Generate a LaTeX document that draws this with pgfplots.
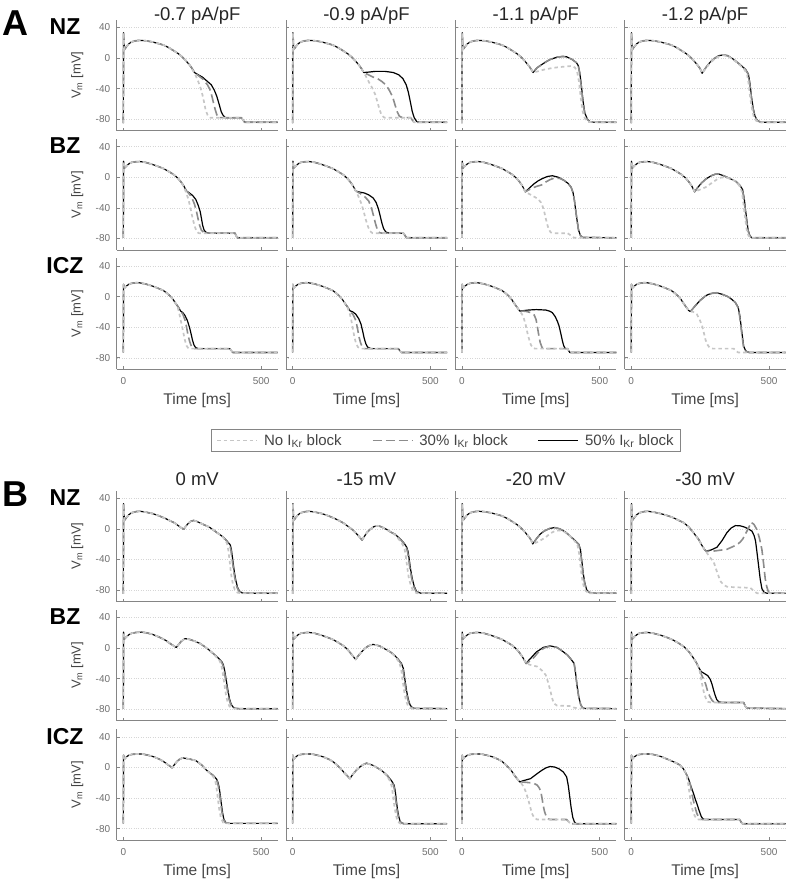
\documentclass[border=0pt]{standalone}
\usepackage{fontspec}
\setmainfont{Liberation Sans}
\usepackage{pgfplots}
\pgfplotsset{compat=1.18}
\definecolor{axgray}{HTML}{858585}
\definecolor{tickgray}{HTML}{6E6E6E}
\definecolor{gridgray}{HTML}{D6D6D6}
\definecolor{labgray}{HTML}{444444}
\definecolor{c30}{HTML}{8C8C8C}
\definecolor{cnb}{HTML}{C6C6C6}
\tikzset{
 b50/.style={draw=black, line width=1.2pt, line join=round},
 b30/.style={draw=c30, line width=1.6pt, dash pattern=on 9pt off 4pt, line join=round},
 nob/.style={draw=cnb, line width=1.7pt, dash pattern=on 3.5pt off 3pt, line join=round},
}
\pgfplotsset{
 panel/.style={
   scale only axis, width=161pt, height=111pt, anchor=north west,
   xmin=-24, xmax=560, ymin=-95, ymax=50,
   axis lines=left, axis line style={-, draw=axgray, line width=0.9pt},
   xtick={0,500}, ytick={-80,-40,0,40},
   xticklabels={}, yticklabels={},
   tick align=inside, major tick length=3pt,
   tick style={draw=axgray, line width=0.7pt},
   ymajorgrids, major grid style={dotted, draw=gridgray, line width=0.6pt},
   tick label style={font=\fontsize{10}{12}\selectfont, text=tickgray},
 },
 leftcol/.style={yticklabels={-80,-40,0,40}, ylabel={V\textsubscript{m} [mV]},
   ylabel style={at={(axis description cs:-0.245,0.5)}, anchor=center, font=\fontsize{13}{15}\selectfont, text=labgray},
   yticklabel style={xshift=-3pt}},
 bottomrow/.style={xticklabels={0,500}, xlabel={Time [ms]},
   xlabel style={at={(axis description cs:0.5,-0.315)}, anchor=base, font=\fontsize{15.5}{17}\selectfont, text=labgray},
   xticklabel style={anchor=base, yshift=-15pt}},
}
\begin{document}
\begin{tikzpicture}
\path[use as bounding box] (0pt,0pt) rectangle (787pt,881pt);
% big letters and row labels
\node[font=\fontsize{36}{38}\selectfont\bfseries] at (15pt,858pt) {A};
\node[font=\fontsize{36}{38}\selectfont\bfseries] at (15pt,387pt) {B};
\foreach \yy/\lab in {854.5/NZ,735.2/BZ,615.9/ICZ,383.5/NZ,264.2/BZ,144.9/ICZ}{
  \node[font=\fontsize{23}{25}\selectfont\bfseries] at (65pt,\yy pt) {\lab};
}
% titles
\foreach \xx/\lab in {197.2/{-0.7 pA/pF},366.5/{-0.9 pA/pF},535.8/{-1.1 pA/pF},705.1/{-1.2 pA/pF}}{
  \node[anchor=base, font=\fontsize{18.5}{20}\selectfont, text=black!85] at (\xx pt,860.5pt) {\lab};
}
\foreach \xx/\lab in {197.2/{0 mV},366.5/{-15 mV},535.8/{-20 mV},705.1/{-30 mV}}{
  \node[anchor=base, font=\fontsize{18.5}{20}\selectfont, text=black!85] at (\xx pt,395pt) {\lab};
}

%================ A: NZ ================
\begin{axis}[panel, leftcol, at={(116.7pt,861.3pt)}]
\addplot[b50] coordinates {(0,-85) (1,33) (4,11) (12,15) (20,18.5) (30,21) (45,22.5) (60,23) (80,22.5) (105,21) (125,19) (145,17) (165,13.5) (185,9) (200,5.5) (215,1) (228,-4) (240,-9) (250,-14) (258,-19) (272,-22) (287,-25) (303,-30) (319,-35) (330,-42) (339,-50) (348,-61) (355,-70) (362,-75) (370,-78) (428,-78) (440,-84) (560,-84)};
\addplot[b30] coordinates {(0,-85) (1,33) (4,11) (12,15) (20,18.5) (30,21) (45,22.5) (60,23) (80,22.5) (105,21) (125,19) (145,17) (165,13.5) (185,9) (200,5.5) (215,1) (228,-4) (240,-9) (250,-14) (258,-19) (272,-23) (290,-28) (305,-35) (314,-41) (320,-48) (326,-57) (333,-67) (339,-74) (347,-78) (428,-78) (440,-84) (560,-84)};
\addplot[nob] coordinates {(0,-85) (1,33) (4,11) (12,15) (20,18.5) (30,21) (45,22.5) (60,23) (80,22.5) (105,21) (125,19) (145,17) (165,13.5) (185,9) (200,5.5) (215,1) (228,-4) (240,-9) (250,-15) (260,-21) (271,-30) (280,-39) (287,-48) (293,-58) (298,-67) (306,-75) (315,-78) (428,-78) (440,-84) (560,-84)};
\end{axis}
\begin{axis}[panel, at={(286.0pt,861.3pt)}]
\addplot[b50] coordinates {(0,-85) (1,33) (4,11) (12,15) (20,18.5) (30,21) (45,22.5) (60,23) (80,22.5) (105,21) (125,19) (145,17) (165,13.5) (185,9) (200,5.5) (215,1) (228,-4) (240,-9) (250,-14) (258,-19) (275,-18.5) (300,-17.5) (335,-17.5) (365,-19) (385,-22) (400,-27) (412,-35) (420,-45) (428,-59) (434,-70) (441,-78) (450,-83) (465,-84) (560,-84)};
\addplot[b30] coordinates {(0,-85) (1,33) (4,11) (12,15) (20,18.5) (30,21) (45,22.5) (60,23) (80,22.5) (105,21) (125,19) (145,17) (165,13.5) (185,9) (200,5.5) (215,1) (228,-4) (240,-9) (250,-14) (258,-19) (275,-22) (292,-25) (308,-27) (325,-31) (340,-36) (352,-43) (363,-51) (372,-62) (379,-70) (387,-76) (398,-78) (428,-78) (440,-84) (560,-84)};
\addplot[nob] coordinates {(0,-85) (1,33) (4,11) (12,15) (20,18.5) (30,21) (45,22.5) (60,23) (80,22.5) (105,21) (125,19) (145,17) (165,13.5) (185,9) (200,5.5) (215,1) (228,-4) (240,-9) (250,-14) (260,-20) (276,-31) (290,-40) (300,-48) (308,-58) (315,-67) (323,-75) (333,-78) (428,-78) (440,-84) (560,-84)};
\end{axis}
\begin{axis}[panel, at={(455.3pt,861.3pt)}]
\addplot[b50] coordinates {(0,-85) (1,33) (4,11) (12,15) (20,18.5) (30,21) (45,22.5) (60,23) (80,22.5) (105,21) (125,19) (145,17) (165,13.5) (185,9) (200,5.5) (215,1) (228,-4) (240,-9) (250,-14) (258,-19) (272,-13) (288,-9) (305,-5) (320,-2) (345,1) (365,2) (380,1.5) (400,-2) (415,-6) (422,-10) (427,-18) (433,-35) (440,-58) (446,-72) (455,-80) (465,-83.5) (480,-84) (560,-84)};
\addplot[b30] coordinates {(0,-85) (1,33) (4,11) (12,15) (20,18.5) (30,21) (45,22.5) (60,23) (80,22.5) (105,21) (125,19) (145,17) (165,13.5) (185,9) (200,5.5) (215,1) (228,-4) (240,-9) (250,-14) (258,-19) (272,-13) (288,-9) (305,-5) (320,-2) (345,1) (365,2) (380,1.5) (400,-2) (415,-6) (422,-10) (426,-18) (432,-35) (439,-58) (445,-72) (454,-80) (464,-83.5) (480,-84) (560,-84)};
\addplot[nob] coordinates {(0,-85) (1,33) (4,11) (12,15) (20,18.5) (30,21) (45,22.5) (60,23) (80,22.5) (105,21) (125,19) (145,17) (165,13.5) (185,9) (200,5.5) (215,1) (228,-4) (240,-9) (250,-14) (258,-19) (275,-17.5) (300,-15) (330,-13) (352,-12) (380,-11) (399,-10.5) (410,-12.5) (418,-18) (425,-32) (431,-52) (438,-70) (446,-79) (458,-83.5) (475,-84) (560,-84)};
\end{axis}
\begin{axis}[panel, at={(624.6pt,861.3pt)}]
\addplot[b50] coordinates {(0,-85) (1,33) (4,11) (12,15) (20,18.5) (30,21) (45,22.5) (60,23) (80,22.5) (105,21) (125,19) (145,17) (165,13.5) (185,9) (200,5.5) (215,1) (228,-4) (240,-9) (250,-14) (257,-20) (270,-13) (285,-6) (300,-1) (318,3) (333,4) (350,3) (370,-1.5) (396,-9) (415,-15) (425,-21) (431,-34) (436,-50) (442,-65) (449,-76) (458,-82) (472,-84) (560,-84)};
\addplot[b30] coordinates {(0,-85) (1,33) (4,11) (12,15) (20,18.5) (30,21) (45,22.5) (60,23) (80,22.5) (105,21) (125,19) (145,17) (165,13.5) (185,9) (200,5.5) (215,1) (228,-4) (240,-9) (250,-14) (257,-20) (270,-13) (285,-6) (300,-1) (318,3) (333,4) (350,3) (370,-1.5) (396,-9) (414,-15) (424,-21) (430,-34) (435,-50) (441,-65) (448,-76) (457,-82) (471,-84) (560,-84)};
\addplot[nob] coordinates {(0,-85) (1,33) (4,11) (12,15) (20,18.5) (30,21) (45,22.5) (60,23) (80,22.5) (105,21) (125,19) (145,17) (165,13.5) (185,9) (200,5.5) (215,1) (228,-4) (240,-9) (250,-14) (257,-20) (270,-14) (285,-7) (300,-2) (318,2) (333,3.5) (350,2.5) (370,-2) (396,-10) (410,-15) (420,-21) (426,-34) (431,-50) (437,-65) (444,-76) (453,-82) (468,-84) (560,-84)};
\end{axis}

%================ A: BZ ================
\begin{axis}[panel, leftcol, at={(116.7pt,742.0pt)}]
\addplot[b50] coordinates {(0,-79) (1,21) (4,12) (12,15) (20,17.5) (30,19.5) (45,20.3) (60,20.5) (80,19.5) (106,16.7) (125,14.3) (145,11.5) (165,7.5) (185,3) (197,-1) (208,-5.5) (219,-11) (229,-18) (240,-20.5) (252,-24) (263,-29) (272,-37) (279,-45) (284,-55) (288,-63) (293,-69) (300,-72) (310,-73) (405,-73) (413,-79) (560,-79)};
\addplot[b30] coordinates {(0,-79) (1,21) (4,12) (12,15) (20,17.5) (30,19.5) (45,20.3) (60,20.5) (80,19.5) (106,16.7) (125,14.3) (145,11.5) (165,7.5) (185,3) (197,-1) (208,-5.5) (219,-11) (229,-18) (240,-22) (250,-28) (258,-35) (265,-44) (271,-54) (277,-63) (283,-69) (291,-72) (300,-73) (405,-73) (413,-79) (560,-79)};
\addplot[nob] coordinates {(0,-79) (1,21) (4,12) (12,15) (20,17.5) (30,19.5) (45,20.3) (60,20.5) (80,19.5) (106,16.7) (125,14.3) (145,11.5) (165,7.5) (185,3) (197,-1) (208,-5.5) (219,-12) (229,-21) (237,-30) (244,-41) (251,-53) (258,-63) (265,-70) (273,-73) (405,-73) (413,-79) (560,-79)};
\end{axis}
\begin{axis}[panel, at={(286.0pt,742.0pt)}]
\addplot[b50] coordinates {(0,-79) (1,21) (4,12) (12,15) (20,17.5) (30,19.5) (45,20.3) (60,20.5) (80,19.5) (106,16.7) (125,14.3) (145,11.5) (165,7.5) (185,3) (197,-1) (208,-5.5) (219,-11) (229,-18) (245,-19.5) (260,-20.5) (276,-23) (292,-27) (303,-33) (311,-41) (318,-51) (324,-60) (330,-67) (338,-71.5) (350,-73) (402,-73) (413,-79) (560,-79)};
\addplot[b30] coordinates {(0,-79) (1,21) (4,12) (12,15) (20,17.5) (30,19.5) (45,20.3) (60,20.5) (80,19.5) (106,16.7) (125,14.3) (145,11.5) (165,7.5) (185,3) (197,-1) (208,-5.5) (219,-11) (229,-18) (245,-21) (262,-25.5) (276,-31) (286,-40) (294,-51) (301,-61) (308,-69) (316,-72.5) (325,-73) (402,-73) (413,-79) (560,-79)};
\addplot[nob] coordinates {(0,-79) (1,21) (4,12) (12,15) (20,17.5) (30,19.5) (45,20.3) (60,20.5) (80,19.5) (106,16.7) (125,14.3) (145,11.5) (165,7.5) (185,3) (197,-1) (208,-5.5) (219,-11) (229,-18) (240,-26) (250,-35) (258,-45) (266,-56) (274,-65) (281,-70.5) (290,-73) (402,-73) (413,-79) (560,-79)};
\end{axis}
\begin{axis}[panel, at={(455.3pt,742.0pt)}]
\addplot[b50] coordinates {(0,-79) (1,21) (4,12) (12,15) (20,17.5) (30,19.5) (45,20.3) (60,20.5) (80,19.5) (106,16.7) (125,14.3) (145,11.5) (165,7.5) (185,3) (197,-1) (208,-5.5) (219,-11) (230,-19) (245,-14) (260,-9) (275,-5) (290,-2) (310,1) (328,2) (350,0) (368,-3.5) (385,-8) (396,-13) (403,-20) (408,-30) (413,-44) (418,-57) (423,-69) (430,-76) (438,-78.6) (560,-79)};
\addplot[b30] coordinates {(0,-79) (1,21) (4,12) (12,15) (20,17.5) (30,19.5) (45,20.3) (60,20.5) (80,19.5) (106,16.7) (125,14.3) (145,11.5) (165,7.5) (185,3) (197,-1) (208,-5.5) (219,-11) (230,-19) (250,-15) (270,-12) (289,-10) (305,-6) (320,-3) (336,-1) (355,-1.5) (370,-4) (385,-8) (396,-13) (403,-20) (408,-30) (413,-44) (418,-57) (423,-69) (430,-76) (438,-78.6) (560,-79)};
\addplot[nob] coordinates {(0,-79) (1,21) (4,12) (12,15) (20,17.5) (30,19.5) (45,20.3) (60,20.5) (80,19.5) (106,16.7) (125,14.3) (145,11.5) (165,7.5) (185,3) (197,-1) (208,-5.5) (219,-11) (230,-19) (245,-22) (260,-25) (275,-28) (287,-33) (296,-41) (303,-52) (309,-61) (315,-68) (322,-72) (332,-73) (383,-73) (395,-76) (407,-79) (560,-79)};
\end{axis}
\begin{axis}[panel, at={(624.6pt,742.0pt)}]
\addplot[b50] coordinates {(0,-79) (1,21) (4,12) (12,15) (20,17.5) (30,19.5) (45,20.3) (60,20.5) (80,19.5) (106,16.7) (125,14.3) (145,11.5) (165,7.5) (185,3) (197,-1) (208,-5.5) (219,-11) (230,-19) (242,-13) (255,-7.5) (270,-2.5) (290,2) (305,4) (317,4.3) (335,2) (360,-2) (380,-5.5) (395,-11) (404,-16) (410,-28) (415,-44) (420,-58) (424,-69) (430,-76) (437,-79) (560,-79)};
\addplot[b30] coordinates {(0,-79) (1,21) (4,12) (12,15) (20,17.5) (30,19.5) (45,20.3) (60,20.5) (80,19.5) (106,16.7) (125,14.3) (145,11.5) (165,7.5) (185,3) (197,-1) (208,-5.5) (219,-11) (230,-19) (242,-13) (255,-7.5) (270,-2.5) (290,2) (305,4) (317,4.3) (335,2) (360,-2) (380,-5.5) (395,-11) (403,-16) (409,-28) (414,-44) (419,-58) (423,-69) (429,-76) (436,-79) (560,-79)};
\addplot[nob] coordinates {(0,-79) (1,21) (4,12) (12,15) (20,17.5) (30,19.5) (45,20.3) (60,20.5) (80,19.5) (106,16.7) (125,14.3) (145,11.5) (165,7.5) (185,3) (197,-1) (208,-5.5) (219,-11) (230,-19) (250,-16) (270,-13) (290,-8) (310,-3) (325,-0.5) (340,0) (360,-2) (380,-5.5) (392,-11) (400,-17) (405,-28) (410,-44) (415,-58) (419,-69) (425,-76) (432,-79) (560,-79)};
\end{axis}

%================ A: ICZ ================
\begin{axis}[panel, leftcol, bottomrow, at={(116.7pt,622.7pt)}]
\addplot[b50] coordinates {(0,-73) (1,16) (4,11) (12,14) (20,16) (30,17.3) (45,18) (58,18) (80,16.5) (106,13.7) (125,11) (145,8) (158,4.5) (169,1) (181,-4) (192,-10) (200,-14) (208,-19) (216,-21) (224,-25) (232,-31) (240,-40) (246,-49) (251,-57) (256,-63) (262,-66.5) (271,-68) (386,-68) (397,-73) (560,-73)};
\addplot[b30] coordinates {(0,-73) (1,16) (4,11) (12,14) (20,16) (30,17.3) (45,18) (58,18) (80,16.5) (106,13.7) (125,11) (145,8) (158,4.5) (169,1) (181,-4) (192,-10) (200,-14) (208,-19) (216,-23) (224,-31) (230,-41) (235,-51) (241,-59) (248,-66) (256,-68) (386,-68) (397,-73) (560,-73)};
\addplot[nob] coordinates {(0,-73) (1,16) (4,11) (12,14) (20,16) (30,17.3) (45,18) (58,18) (80,16.5) (106,13.7) (125,11) (145,8) (158,4.5) (169,1) (181,-4) (192,-10) (198,-15) (203,-22) (210,-34) (216,-44) (222,-55) (229,-64) (237,-68) (386,-68) (397,-73) (560,-73)};
\end{axis}
\begin{axis}[panel, bottomrow, at={(286.0pt,622.7pt)}]
\addplot[b50] coordinates {(0,-73) (1,16) (4,11) (12,14) (20,16) (30,17.3) (45,18) (58,18) (80,16.5) (106,13.7) (125,11) (145,8) (158,4.5) (169,1) (181,-4) (192,-10) (200,-14) (208,-18.5) (218,-20) (229,-23) (240,-29) (248,-36) (254,-45) (260,-55) (266,-62) (272,-66) (284,-68) (383,-68) (394,-73) (560,-73)};
\addplot[b30] coordinates {(0,-73) (1,16) (4,11) (12,14) (20,16) (30,17.3) (45,18) (58,18) (80,16.5) (106,13.7) (125,11) (145,8) (158,4.5) (169,1) (181,-4) (192,-10) (200,-14) (208,-18.5) (220,-24) (229,-31) (235,-41) (241,-53) (247,-61) (253,-66) (261,-68) (383,-68) (394,-73) (560,-73)};
\addplot[nob] coordinates {(0,-73) (1,16) (4,11) (12,14) (20,16) (30,17.3) (45,18) (58,18) (80,16.5) (106,13.7) (125,11) (145,8) (158,4.5) (169,1) (181,-4) (192,-10) (200,-15) (207,-22) (213,-31) (219,-43) (224,-53) (230,-61) (237,-66) (245,-68) (383,-68) (394,-73) (560,-73)};
\end{axis}
\begin{axis}[panel, bottomrow, at={(455.3pt,622.7pt)}]
\addplot[b50] coordinates {(0,-73) (1,16) (4,11) (12,14) (20,16) (30,17.3) (45,18) (58,18) (80,16.5) (106,13.7) (125,11) (145,8) (158,4.5) (169,1) (181,-4) (192,-10) (200,-14) (210,-19) (220,-18.5) (241,-17.6) (270,-17) (304,-17.6) (318,-19) (328,-21) (338,-26) (346,-32) (352,-38) (358,-47) (364,-57) (369,-64) (375,-68) (383,-68) (391,-73) (560,-73)};
\addplot[b30] coordinates {(0,-73) (1,16) (4,11) (12,14) (20,16) (30,17.3) (45,18) (58,18) (80,16.5) (106,13.7) (125,11) (145,8) (158,4.5) (169,1) (181,-4) (192,-10) (200,-14) (210,-19) (222,-19) (235,-19.5) (250,-21) (262,-24) (269,-30) (274,-40) (279,-51) (284,-60) (290,-66) (297,-68) (383,-68) (391,-73) (560,-73)};
\addplot[nob] coordinates {(0,-73) (1,16) (4,11) (12,14) (20,16) (30,17.3) (45,18) (58,18) (80,16.5) (106,13.7) (125,11) (145,8) (158,4.5) (169,1) (181,-4) (192,-10) (200,-14) (210,-19) (218,-23) (225,-29) (232,-38) (238,-48) (244,-56) (250,-63) (257,-67) (265,-68) (383,-68) (391,-73) (560,-73)};
\end{axis}
\begin{axis}[panel, bottomrow, at={(624.6pt,622.7pt)}]
\addplot[b50] coordinates {(0,-73) (1,16) (4,11) (12,14) (20,16) (30,17.3) (45,18) (58,18) (80,16.5) (106,13.7) (125,11) (145,8) (158,4.5) (169,1) (181,-4) (192,-10) (200,-14) (208,-18) (214,-19.5) (222,-16.5) (230,-13) (240,-9) (250,-5) (260,-2) (270,1) (280,2.8) (290,4) (309,5) (330,3) (350,0) (364,-3.4) (378,-8) (388,-14) (394,-25) (399,-40) (404,-54) (408,-65) (414,-70) (420,-72) (428,-73) (560,-73)};
\addplot[b30] coordinates {(0,-73) (1,16) (4,11) (12,14) (20,16) (30,17.3) (45,18) (58,18) (80,16.5) (106,13.7) (125,11) (145,8) (158,4.5) (169,1) (181,-4) (192,-10) (200,-14) (208,-18) (214,-19.5) (222,-16.5) (230,-13) (240,-9) (250,-5) (260,-2) (270,1) (280,2.8) (290,4) (309,5) (330,3) (350,0) (364,-3.4) (378,-8) (387,-14) (393,-25) (398,-40) (403,-54) (407,-65) (413,-70) (419,-72) (427,-73) (560,-73)};
\addplot[nob] coordinates {(0,-73) (1,16) (4,11) (12,14) (20,16) (30,17.3) (45,18) (58,18) (80,16.5) (106,13.7) (125,11) (145,8) (158,4.5) (169,1) (181,-4) (192,-10) (200,-14) (208,-18) (214,-19.5) (225,-20) (238,-23) (248,-30) (257,-38) (264,-48) (270,-57) (277,-63) (285,-67) (295,-68) (372,-68) (380,-71) (388,-73) (560,-73)};
\end{axis}

%================ Legend ================
\begin{axis}[at={(446pt,440.5pt)}, anchor=center, hide axis, scale only axis, width=10pt, height=10pt,
  xmin=0, xmax=1, ymin=0, ymax=1,
  legend style={at={(0.5,0.5)}, anchor=center, draw=axgray, line width=0.7pt, legend columns=3,
    font=\fontsize{15}{17}\selectfont, text=labgray, inner xsep=5pt, inner ysep=3pt,
    /tikz/every odd column/.append style={column sep=4pt},
    /tikz/every even column/.append style={column sep=28pt}},
  legend cell align=left,
  legend image code/.code={\draw[#1] (0pt,0pt) -- (40pt,0pt);}]
\addlegendimage{nob}
\addlegendentry{No I\textsubscript{Kr} block}
\addlegendimage{b30}
\addlegendentry{30\% I\textsubscript{Kr} block}
\addlegendimage{b50}
\addlegendentry{50\% I\textsubscript{Kr} block}
\end{axis}

%================ B: NZ ================
\begin{axis}[panel, leftcol, at={(116.7pt,390.4pt)}]
\addplot[b50] coordinates {(0,-85) (1,33) (4,11) (12,15) (20,18.5) (30,21) (45,22.5) (60,23) (80,22) (106,20) (130,17) (153,13.5) (170,10.5) (185,8) (200,4) (212,1) (219,-0.5) (226,3) (235,7) (245,10) (255,11) (265,10) (280,7.5) (295,5) (311,2.5) (325,-1) (340,-5) (358,-9.5) (370,-13.5) (380,-17.5) (388,-21) (392,-27) (395,-35) (399,-46) (403,-57) (408,-67) (414,-76) (421,-81) (430,-83.5) (440,-84) (560,-84)};
\addplot[b30] coordinates {(0,-85) (1,33) (4,11) (12,15) (20,18.5) (30,21) (45,22.5) (60,23) (80,22) (106,20) (130,17) (153,13.5) (170,10.5) (185,8) (200,4) (212,1) (219,-0.5) (226,3) (235,7) (245,10) (255,11) (265,10) (280,7.5) (295,5) (311,2.5) (325,-1) (340,-5) (358,-9.5) (370,-13.5) (378,-17.5) (386,-21) (390,-27) (393,-35) (397,-46) (401,-57) (406,-67) (412,-76) (419,-81) (428,-83.5) (440,-84) (560,-84)};
\addplot[nob] coordinates {(0,-85) (1,33) (4,11) (12,15) (20,18.5) (30,21) (45,22.5) (60,23) (80,22) (106,20) (130,17) (153,13.5) (170,10.5) (185,8) (200,4) (212,1) (219,-0.5) (226,3) (235,7) (245,10) (255,11) (265,10) (280,7.5) (295,5) (311,2.5) (325,-1) (340,-5) (358,-9.5) (368,-14) (376,-19) (381,-28) (385,-40) (389,-53) (393,-64) (398,-73) (405,-80) (415,-83.5) (430,-84) (560,-84)};
\end{axis}
\begin{axis}[panel, at={(286.0pt,390.4pt)}]
\addplot[b50] coordinates {(0,-85) (1,33) (4,11) (12,15) (20,18.5) (30,21) (45,22.5) (60,23) (80,22) (106,20) (130,17) (153,13.5) (170,10.5) (185,7.5) (200,3.5) (215,-0.5) (228,-5) (240,-9.5) (252,-14.6) (260,-10) (270,-4.5) (280,-1) (295,3) (308,4) (320,3) (340,-0.5) (355,-4) (371,-7) (390,-13) (405,-19) (414,-24) (419,-30) (423,-40) (428,-53) (434,-65) (441,-75) (450,-82) (465,-84) (560,-84)};
\addplot[b30] coordinates {(0,-85) (1,33) (4,11) (12,15) (20,18.5) (30,21) (45,22.5) (60,23) (80,22) (106,20) (130,17) (153,13.5) (170,10.5) (185,7.5) (200,3.5) (215,-0.5) (228,-5) (240,-9.5) (252,-14.6) (260,-10) (270,-4.5) (280,-1) (295,3) (308,4) (320,3) (340,-0.5) (355,-4) (371,-7) (389,-13) (403,-19) (412,-24) (417,-30) (421,-40) (426,-53) (432,-65) (439,-75) (448,-82) (463,-84) (560,-84)};
\addplot[nob] coordinates {(0,-85) (1,33) (4,11) (12,15) (20,18.5) (30,21) (45,22.5) (60,23) (80,22) (106,20) (130,17) (153,13.5) (170,10.5) (185,7.5) (200,3.5) (215,-0.5) (228,-5) (240,-9.5) (252,-14.6) (260,-10) (270,-4.5) (280,-1) (295,3) (308,4) (320,3) (340,-0.5) (355,-4) (371,-7.5) (386,-14) (398,-20) (406,-26) (411,-37) (416,-51) (421,-63) (428,-73) (437,-81) (450,-84) (560,-84)};
\end{axis}
\begin{axis}[panel, at={(455.3pt,390.4pt)}]
\addplot[b50] coordinates {(0,-85) (1,33) (4,11) (12,15) (20,18.5) (30,21) (45,22.5) (60,23) (80,22.5) (105,21) (125,19) (145,17) (165,13.5) (185,9) (200,5.5) (215,1) (228,-4) (240,-9) (250,-14) (257,-19.7) (270,-13) (285,-6.5) (300,-2.5) (318,0.5) (336,1.7) (355,0) (375,-4) (391,-9) (410,-15) (424,-20) (430,-27) (435,-42) (440,-58) (446,-71) (453,-80) (462,-83) (480,-84) (560,-84)};
\addplot[b30] coordinates {(0,-85) (1,33) (4,11) (12,15) (20,18.5) (30,21) (45,22.5) (60,23) (80,22.5) (105,21) (125,19) (145,17) (165,13.5) (185,9) (200,5.5) (215,1) (228,-4) (240,-9) (250,-14) (257,-19.7) (270,-13) (285,-6.5) (300,-2.5) (318,0.5) (336,1.7) (355,0) (375,-4) (391,-9) (409,-15) (423,-20) (429,-27) (434,-42) (439,-58) (445,-71) (452,-80) (461,-83) (480,-84) (560,-84)};
\addplot[nob] coordinates {(0,-85) (1,33) (4,11) (12,15) (20,18.5) (30,21) (45,22.5) (60,23) (80,22.5) (105,21) (125,19) (145,17) (165,13.5) (185,9) (200,5.5) (215,1) (228,-4) (240,-9) (250,-14) (257,-19.7) (275,-17) (290,-14) (304,-11) (320,-6) (336,-3) (352,-2) (370,-3.5) (391,-9) (407,-15) (419,-21) (425,-32) (430,-48) (435,-63) (441,-74) (449,-81) (460,-84) (560,-84)};
\end{axis}
\begin{axis}[panel, at={(624.6pt,390.4pt)}]
\addplot[b50] coordinates {(0,-85) (1,33) (4,11) (12,15) (20,18.5) (30,21) (45,22.5) (60,23) (80,22) (106,20) (130,17.5) (150,15) (170,11.5) (191,8) (210,2) (230,-7) (245,-14) (257,-22) (266,-27) (272,-29) (290,-27.5) (311,-24) (330,-15) (347,-5) (362,1) (378,4.3) (395,4) (410,2.5) (425,0) (438,-3) (446,-9) (451,-16) (456,-30) (462,-48) (468,-66) (474,-78) (482,-83) (492,-84) (560,-84)};
\addplot[b30] coordinates {(0,-85) (1,33) (4,11) (12,15) (20,18.5) (30,21) (45,22.5) (60,23) (80,22) (106,20) (130,17.5) (150,15) (170,11.5) (191,8) (210,2) (230,-7) (245,-14) (257,-22) (266,-27) (272,-29) (285,-29.3) (299,-29) (320,-28) (347,-26.7) (370,-23) (386,-20) (396,-17) (405,-13) (414,-7) (421,-2) (428,3) (435,8.5) (445,6) (456,-1) (465,-12) (474,-27) (480,-45) (486,-65) (492,-76) (498,-82.6) (508,-84) (560,-84)};
\addplot[nob] coordinates {(0,-85) (1,33) (4,11) (12,15) (20,18.5) (30,21) (45,22.5) (60,23) (80,22) (106,20) (130,17.5) (150,15) (170,11.5) (191,8) (210,2) (230,-7) (245,-14) (257,-22) (266,-27) (272,-30) (285,-37) (299,-43) (310,-55) (318,-63) (325,-69) (335,-73) (347,-75.5) (361,-76) (432,-77) (444,-81) (456,-84) (560,-84)};
\end{axis}

%================ B: BZ ================
\begin{axis}[panel, leftcol, at={(116.7pt,271.1pt)}]
\addplot[b50] coordinates {(0,-79) (1,21) (4,12) (12,15) (20,17.5) (30,19.5) (45,20.5) (66,21) (85,20) (106,18) (130,14.5) (153,10.4) (170,6) (183,3) (192,0.9) (200,4.5) (210,9) (224,12.5) (240,11.5) (260,9) (279,6) (295,2) (310,-2) (326,-7) (345,-13) (358,-18) (363,-22) (368,-30) (373,-41) (379,-54) (385,-66) (391,-73) (397,-76.5) (405,-78.5) (420,-79) (560,-79)};
\addplot[b30] coordinates {(0,-79) (1,21) (4,12) (12,15) (20,17.5) (30,19.5) (45,20.5) (66,21) (85,20) (106,18) (130,14.5) (153,10.4) (170,6) (183,3) (192,0.9) (200,4.5) (210,9) (224,12.5) (240,11.5) (260,9) (279,6) (295,2) (310,-2) (326,-7) (344,-13) (356,-18) (361,-22) (366,-30) (371,-41) (377,-54) (383,-66) (389,-73) (395,-76.5) (403,-78.5) (418,-79) (560,-79)};
\addplot[nob] coordinates {(0,-79) (1,21) (4,12) (12,15) (20,17.5) (30,19.5) (45,20.5) (66,21) (85,20) (106,18) (130,14.5) (153,10.4) (170,6) (183,3) (192,0.9) (200,4.5) (210,9) (224,12.5) (240,11.5) (260,9) (279,6) (295,2) (310,-2) (326,-7) (340,-12.5) (350,-17) (356,-23) (361,-33) (366,-46) (372,-60) (378,-70) (385,-76) (395,-78.5) (410,-79) (560,-79)};
\end{axis}
\begin{axis}[panel, at={(286.0pt,271.1pt)}]
\addplot[b50] coordinates {(0,-79) (1,21) (4,12) (12,15) (20,17.5) (30,19.5) (45,20.3) (60,20.5) (80,19.5) (106,16.7) (125,14.3) (145,11.5) (165,7.5) (185,3) (197,-1) (208,-5.5) (219,-10.5) (229,-14.7) (237,-10.5) (245,-7) (260,-1) (275,3) (292,5) (315,3) (335,-1) (355,-5) (370,-9.5) (382,-14) (395,-20) (402,-27) (407,-40) (413,-55) (419,-66) (426,-74) (432,-77) (440,-78.6) (560,-79)};
\addplot[b30] coordinates {(0,-79) (1,21) (4,12) (12,15) (20,17.5) (30,19.5) (45,20.3) (60,20.5) (80,19.5) (106,16.7) (125,14.3) (145,11.5) (165,7.5) (185,3) (197,-1) (208,-5.5) (219,-10.5) (229,-14.7) (237,-10.5) (245,-7) (260,-1) (275,3) (292,5) (315,3) (335,-1) (355,-5) (370,-9.5) (381,-14) (393,-20) (400,-27) (405,-40) (411,-55) (417,-66) (424,-74) (430,-77) (438,-78.6) (560,-79)};
\addplot[nob] coordinates {(0,-79) (1,21) (4,12) (12,15) (20,17.5) (30,19.5) (45,20.3) (60,20.5) (80,19.5) (106,16.7) (125,14.3) (145,11.5) (165,7.5) (185,3) (197,-1) (208,-5.5) (219,-10.5) (229,-14.7) (237,-10.5) (245,-7) (260,-1) (275,3) (292,5) (315,3) (335,-1) (355,-5) (368,-9.5) (378,-14) (388,-20) (394,-28) (399,-42) (405,-57) (411,-68) (418,-75) (426,-78) (435,-79) (560,-79)};
\end{axis}
\begin{axis}[panel, at={(455.3pt,271.1pt)}]
\addplot[b50] coordinates {(0,-79) (1,21) (4,12) (12,15) (20,17.5) (30,19.5) (45,20.3) (60,20.5) (80,19.5) (106,16.7) (125,14.3) (145,11.5) (165,7.5) (185,3) (197,-1) (208,-5.5) (219,-11) (233,-20) (242,-16) (250,-13) (260,-9) (270,-5) (283,-2) (295,1) (320,3) (345,1) (365,-4) (383,-9) (397,-15) (407,-20) (412,-32) (418,-50) (424,-64) (431,-74) (437,-77.5) (443,-78.6) (560,-79)};
\addplot[b30] coordinates {(0,-79) (1,21) (4,12) (12,15) (20,17.5) (30,19.5) (45,20.3) (60,20.5) (80,19.5) (106,16.7) (125,14.3) (145,11.5) (165,7.5) (185,3) (197,-1) (208,-5.5) (219,-11) (233,-20) (250,-16) (265,-10.5) (280,-4) (300,0.5) (320,2.5) (345,1) (365,-4) (383,-9) (397,-15) (407,-20) (412,-32) (418,-50) (424,-64) (431,-74) (437,-77.5) (443,-78.6) (560,-79)};
\addplot[nob] coordinates {(0,-79) (1,21) (4,12) (12,15) (20,17.5) (30,19.5) (45,20.3) (60,20.5) (80,19.5) (106,16.7) (125,14.3) (145,11.5) (165,7.5) (185,3) (197,-1) (208,-5.5) (219,-11) (233,-20) (250,-22) (273,-24) (290,-29) (304,-35) (312,-44) (320,-54.5) (327,-65) (333,-72) (345,-75) (390,-75.5) (405,-77.5) (420,-78.6) (560,-79)};
\end{axis}
\begin{axis}[panel, at={(624.6pt,271.1pt)}]
\addplot[b50] coordinates {(0,-79) (1,21) (4,12) (12,15) (20,17.5) (30,19.5) (45,20.3) (60,20.5) (80,19.5) (106,17) (130,14) (150,11) (170,7) (191,2) (210,-5) (222,-11) (235,-18) (246,-26) (254,-30.7) (265,-33) (278,-36) (287,-41) (293,-47) (299,-55) (304,-61) (310,-67) (317,-70) (330,-71) (408,-71) (414,-76) (420,-78.3) (560,-79)};
\addplot[b30] coordinates {(0,-79) (1,21) (4,12) (12,15) (20,17.5) (30,19.5) (45,20.3) (60,20.5) (80,19.5) (106,17) (130,14) (150,11) (170,7) (191,2) (210,-5) (222,-11) (235,-18) (246,-26) (254,-34) (262,-40) (270,-47) (277,-56) (285,-63) (293,-68) (301,-71) (408,-71) (414,-76) (420,-78.3) (560,-79)};
\addplot[nob] coordinates {(0,-79) (1,21) (4,12) (12,15) (20,17.5) (30,19.5) (45,20.3) (60,20.5) (80,19.5) (106,17) (130,14) (150,11) (170,7) (191,2) (210,-5) (222,-11) (235,-18) (246,-26) (250,-33) (256,-45) (263,-57) (270,-65) (278,-70) (290,-71) (408,-71) (414,-76) (420,-78.3) (560,-79)};
\end{axis}

%================ B: ICZ ================
\begin{axis}[panel, leftcol, bottomrow, at={(116.7pt,151.8pt)}]
\addplot[b50] coordinates {(0,-73) (1,16) (4,11) (12,14) (20,16) (30,17) (50,17.6) (70,17.6) (90,16) (110,14) (130,11) (145,8) (160,4) (170,1.5) (177,-0.4) (185,3.5) (195,8) (205,11) (216,12.5) (240,11) (263,9) (285,3) (303,-4) (325,-10) (338,-15) (343,-19) (347,-25) (351,-34) (355,-46) (360,-59) (365,-68) (372,-72) (385,-73) (560,-73)};
\addplot[b30] coordinates {(0,-73) (1,16) (4,11) (12,14) (20,16) (30,17) (50,17.6) (70,17.6) (90,16) (110,14) (130,11) (145,8) (160,4) (170,1.5) (177,-0.4) (185,3.5) (195,8) (205,11) (216,12.5) (240,11) (263,9) (285,3) (303,-4) (324,-10) (336,-15) (341,-19) (345,-25) (349,-34) (353,-46) (358,-59) (363,-68) (370,-72) (383,-73) (560,-73)};
\addplot[nob] coordinates {(0,-73) (1,16) (4,11) (12,14) (20,16) (30,17) (50,17.6) (70,17.6) (90,16) (110,14) (130,11) (145,8) (160,4) (170,1.5) (177,-0.4) (185,3.5) (195,8) (205,11) (216,12.5) (240,11) (263,9) (285,3) (303,-4) (318,-8.5) (330,-14) (335,-20) (339,-29) (343,-41) (348,-55) (354,-66) (362,-72) (372,-73) (560,-73)};
\end{axis}
\begin{axis}[panel, bottomrow, at={(286.0pt,151.8pt)}]
\addplot[b50] coordinates {(0,-73) (1,16) (4,11) (12,14) (20,16) (30,17) (50,17.6) (70,17.6) (90,16) (110,14) (130,11) (145,8) (160,3.5) (175,-2) (193,-9) (208,-14.6) (218,-9) (230,-4) (243,0.5) (255,3.5) (268,5.6) (290,3) (305,0) (323,-3.9) (345,-11) (360,-18) (368,-23) (372,-30) (376,-42) (380,-54) (385,-64) (390,-70.5) (396,-72.5) (405,-73.5) (560,-73.5)};
\addplot[b30] coordinates {(0,-73) (1,16) (4,11) (12,14) (20,16) (30,17) (50,17.6) (70,17.6) (90,16) (110,14) (130,11) (145,8) (160,3.5) (175,-2) (193,-9) (208,-14.6) (218,-9) (230,-4) (243,0.5) (255,3.5) (268,5.6) (290,3) (305,0) (323,-3.9) (344,-11) (358,-18) (366,-23) (370,-30) (374,-42) (378,-54) (383,-64) (388,-70.5) (394,-72.5) (403,-73.5) (560,-73.5)};
\addplot[nob] coordinates {(0,-73) (1,16) (4,11) (12,14) (20,16) (30,17) (50,17.6) (70,17.6) (90,16) (110,14) (130,11) (145,8) (160,3.5) (175,-2) (193,-9) (208,-14.6) (218,-9) (230,-4) (243,0.5) (255,3.5) (268,5.6) (290,3) (305,0) (323,-3.9) (340,-10) (352,-17) (359,-24) (364,-36) (369,-50) (375,-63) (382,-71) (392,-73.5) (560,-73.5)};
\end{axis}
\begin{axis}[panel, bottomrow, at={(455.3pt,151.8pt)}]
\addplot[b50] coordinates {(0,-73) (1,16) (4,11) (12,14) (20,16) (30,17) (50,17.6) (70,17.6) (90,16) (110,14) (130,11) (145,8) (158,4) (169,0) (181,-5) (192,-11) (201,-15) (210,-19) (220,-17.5) (235,-16) (249,-14.6) (262,-11) (275,-7.5) (289,-3.9) (305,-0.5) (320,1.3) (337,0.5) (352,-1.7) (368,-6) (380,-12.5) (386,-24) (391,-38) (396,-52) (402,-65) (408,-71) (415,-73.5) (560,-73.5)};
\addplot[b30] coordinates {(0,-73) (1,16) (4,11) (12,14) (20,16) (30,17) (50,17.6) (70,17.6) (90,16) (110,14) (130,11) (145,8) (158,4) (169,0) (181,-5) (192,-11) (201,-15) (210,-19) (220,-19) (235,-19.5) (249,-20) (262,-21) (273,-23) (281,-27) (287,-33) (291,-41) (295,-50) (300,-58) (306,-64) (313,-67) (320,-68) (380,-68) (390,-72) (399,-73.5) (560,-73.5)};
\addplot[nob] coordinates {(0,-73) (1,16) (4,11) (12,14) (20,16) (30,17) (50,17.6) (70,17.6) (90,16) (110,14) (130,11) (145,8) (158,4) (169,0) (181,-5) (192,-11) (201,-15) (210,-19) (218,-22) (225,-26) (233,-33) (241,-42.6) (248,-52) (254,-60) (262,-65.5) (273,-68) (380,-68) (390,-72) (399,-73.5) (560,-73.5)};
\end{axis}
\begin{axis}[panel, bottomrow, at={(624.6pt,151.8pt)}]
\addplot[b50] coordinates {(0,-73) (1,16) (4,11) (12,14) (20,16) (30,17) (50,17.6) (70,17.6) (90,16.2) (110,14) (130,11) (150,8) (165,5.5) (175,3.5) (188,-1) (199,-8) (208,-15) (215,-23) (220,-28) (226,-34) (232,-41) (238,-47) (246,-56) (254,-64) (260,-67) (267,-68) (393,-68) (400,-72) (404,-73.5) (560,-73.5)};
\addplot[b30] coordinates {(0,-73) (1,16) (4,11) (12,14) (20,16) (30,17) (50,17.6) (70,17.6) (90,16.2) (110,14) (130,11) (150,8) (165,5.5) (175,3.5) (188,-1) (199,-8) (208,-15) (215,-23) (222,-38) (230,-50) (238,-60) (245,-65) (251,-67.5) (258,-68) (393,-68) (400,-72) (404,-73.5) (560,-73.5)};
\addplot[nob] coordinates {(0,-73) (1,16) (4,11) (12,14) (20,16) (30,17) (50,17.6) (70,17.6) (90,16.2) (110,14) (130,11) (150,8) (165,5.5) (175,3.5) (188,-1) (199,-8) (205,-18) (210,-30) (216,-45) (222,-55) (230,-63) (238,-67.5) (245,-68) (393,-68) (400,-72) (404,-73.5) (560,-73.5)};
\end{axis}
\end{tikzpicture}
\end{document}
